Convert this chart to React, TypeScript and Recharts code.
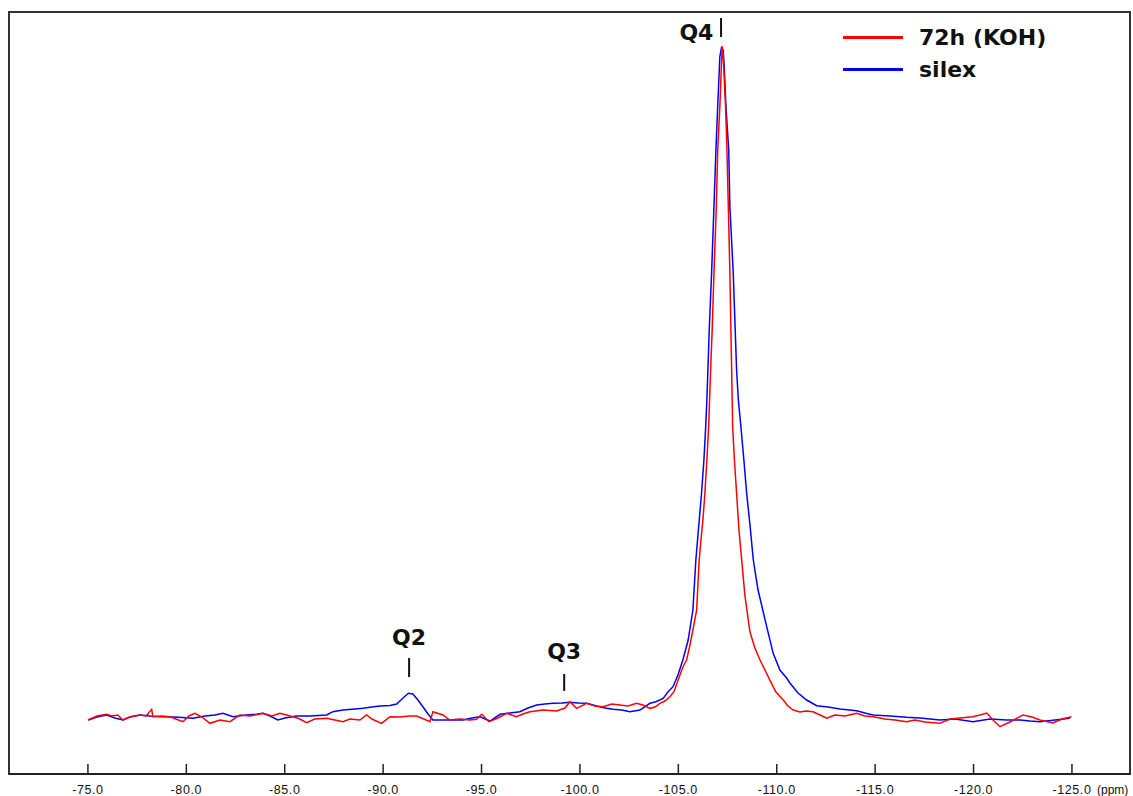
import React from 'react';
import {
  LineChart,
  Line,
  XAxis,
  YAxis,
  ReferenceArea,
  ReferenceLine,
  ReferenceDot,
  Legend,
} from 'recharts';

// 29Si NMR, chemical shift in ppm, intensity normalised to the Q4 maximum
const redPpm = [
  -75.0, -75.46, -75.95, -76.22, -76.52, -76.78, -77.13, -77.64, -77.95, -78.24, -78.3, -78.76,
  -79.17, -79.47, -79.83, -80.13, -80.44, -80.79, -81.2, -81.71, -82.22, -82.72, -83.23, -83.89,
  -84.35, -84.76, -85.42, -85.77, -86.11, -86.53, -87.13, -87.55, -87.96, -88.31, -88.82, -89.16,
  -89.43, -89.92, -90.35, -90.85, -91.36, -91.7, -92.07, -92.38, -92.53, -93.04, -93.39, -93.9,
  -94.41, -94.75, -95.01, -95.38, -95.83, -96.28, -96.78, -97.1, -97.46, -98.14, -98.82, -99.24,
  -99.49, -99.83, -100.34, -100.76, -101.18, -101.63, -102.03, -102.44, -102.88, -103.2, -103.56,
  -103.81, -104.07, -104.32, -104.57, -104.78, -104.99, -105.23, -105.42, -105.59, -105.74,
  -105.93, -106.06, -106.15, -106.25, -106.35, -106.45, -106.54, -106.66, -106.72, -106.81,
  -106.93, -107.0, -107.11, -107.16, -107.23, -107.29, -107.4, -107.47, -107.54, -107.62, -107.67,
  -107.71, -107.76, -107.85, -107.96, -108.08, -108.22, -108.38, -108.64, -108.89, -109.15,
  -109.45, -109.65, -109.96, -110.33, -110.57, -110.84, -111.18, -111.48, -111.84, -112.2,
  -112.54, -112.96, -113.47, -114.06, -114.48, -114.9, -115.5, -116.01, -116.6, -117.02, -117.53,
  -118.29, -118.8, -119.31, -119.97, -120.33, -120.67, -120.99, -121.34, -121.85, -122.51,
  -122.97, -123.37, -124.04, -124.49, -124.98,
];
const redInt = [
  -0.3, 0.3, 0.55, 0.3, 0.45, -0.3, 0.15, 0.45, 0.3, 1.29, 0.19, 0.3,
  0.19, -0.15, -0.55, 0.3, 0.7, 0.15, -0.79, -0.3, -0.55, 0.45, 0.3, 0.7,
  0.3, 0.7, 0.19, -0.15, -0.7, -0.15, -0.04, -0.3, -0.55, -0.15, -0.3, 0.45,
  -0.15, -0.79, 0.19, 0.15, 0.3, 0.3, -0.15, -0.55, 0.94, 0.45, -0.3, -0.15,
  -0.3, -0.19, 0.55, -0.55, 0.0, 0.7, 0.19, 0.6, 0.94, 1.19, 1.04, 1.49,
  2.43, 1.44, 2.19, 1.79, 1.68, 2.08, 1.93, 1.79, 2.19, 1.93, 1.44,
  1.64, 2.19, 2.53, 3.17, 3.91, 5.65, 7.59, 8.63, 10.86, 13.1,
  16.07, 23.51, 26.49, 29.46, 33.48, 38.39, 43.35, 53.27, 57.74, 66.22,
  76.09, 84.52, 90.97, 94.94, 100.0, 97.92, 90.97, 84.52, 76.09, 66.22, 57.74,
  51.79, 43.35, 38.39, 33.48, 27.98, 23.51, 18.3, 12.8, 10.42, 8.63,
  6.85, 5.65, 3.87, 2.68, 1.79, 1.19, 0.89, 1.04, 0.94, 0.45,
  -0.04, 0.45, 0.3, 0.7, 0.3, 0.19, -0.15, -0.3, -0.55, -0.3, -0.6,
  -0.79, -0.15, 0.0, 0.19, 0.45, 0.74, -0.3, -1.29, -0.6, 0.45,
  0.15, -0.3, -0.74, -0.15, 0.19,
];

const bluePpm = [
  -75.02, -75.46, -75.95, -76.37, -76.78, -77.13, -77.64, -78.15, -78.66, -79.42, -80.34, -80.95,
  -81.45, -81.86, -82.37, -83.06, -83.57, -83.89, -84.25, -84.65, -85.01, -85.6, -86.28, -87.13,
  -87.45, -87.96, -88.57, -88.97, -89.43, -89.84, -90.35, -90.69, -90.96, -91.28, -91.51, -91.77,
  -92.02, -92.28, -92.53, -93.14, -93.65, -94.06, -94.51, -94.92, -95.43, -95.94, -96.44, -96.95,
  -97.36, -97.8, -98.22, -98.63, -99.09, -99.49, -99.9, -100.34, -100.85, -101.27, -101.69,
  -102.13, -102.54, -103.05, -103.56, -103.86, -104.23, -104.47, -104.73, -104.98, -105.23,
  -105.5, -105.74, -105.89, -106.02, -106.18, -106.3, -106.39, -106.45, -106.52, -106.57,
  -106.69, -106.81, -106.91, -107.0, -107.11, -107.19, -107.28, -107.34, -107.42, -107.56,
  -107.62, -107.79, -107.89, -107.96, -108.05, -108.18, -108.33, -108.47, -108.64, -108.81,
  -109.05, -109.49, -109.82, -110.16, -110.5, -110.67, -111.08, -111.52, -112.03, -112.6,
  -113.21, -114.06, -114.48, -114.89, -115.75, -116.6, -117.28, -118.29, -119.06, -119.97,
  -120.83, -121.68, -122.36, -122.87, -123.37, -124.14, -124.9,
];
const blueInt = [
  -0.3, 0.15, 0.45, 0.0, -0.3, 0.15, 0.45, 0.3, 0.19, 0.15, -0.04, 0.3,
  0.45, 0.7, 0.19, 0.45, 0.55, 0.7, 0.3, -0.3, 0.0, 0.3, 0.3, 0.45,
  0.94, 1.19, 1.34, 1.44, 1.64, 1.79, 1.86, 2.08, 2.83, 3.68, 3.57, 2.68,
  1.68, 0.6, -0.3, -0.3, -0.3, -0.3, 0.0, 0.19, -0.45, 0.55, 0.74, 0.94,
  1.49, 1.93, 2.08, 2.19, 2.23, 2.34, 2.23, 2.19, 1.79, 1.49, 1.29,
  1.19, 0.94, 1.19, 2.19, 2.43, 2.93, 3.87, 4.66, 6.4, 8.63,
  11.61, 16.07, 23.51, 27.98, 33.48, 38.39, 43.35, 47.32, 53.27, 57.74,
  66.22, 76.09, 84.52, 90.97, 98.41, 99.7, 99.4, 96.43, 90.97, 84.52,
  76.09, 66.22, 57.74, 51.79, 47.32, 43.35, 38.39, 33.48, 28.72, 23.51,
  19.05, 13.59, 9.63, 7.14, 5.95, 5.21, 3.72, 2.68, 1.83, 1.64,
  1.34, 1.09, 0.74, 0.45, 0.3, 0.1, 0.0, -0.3, -0.15, -0.55,
  -0.15, -0.3, -0.3, -0.45, -0.55, -0.3, -0.04,
];

const xTicks = [-75, -80, -85, -90, -95, -100, -105, -110, -115, -120, -125];

const seriesNames = ['72h (KOH)', 'silex'];
const seriesColors = ['#ff0000', '#0000ff'];

// peak assignments: label, shift, label height, marker from/to
const peakLabels = [
  { name: 'Q2', ppm: -91.32, textAt: 12.05, tickFrom: 6.1, tickTo: 8.93 },
  { name: 'Q3', ppm: -99.2, textAt: 9.97, tickFrom: 4.02, tickTo: 6.55 },
  { name: 'Q4', ppm: -107.17, textAt: 102.08, tickFrom: 101.34, tickTo: 104.17, textPpm: -105.92 },
];

const X_DOMAIN: [number, number] = [-127.95, -70.99];
const Y_DOMAIN: [number, number] = [-8.33, 105.06];

const redData = redPpm.map((ppm, i) => ({ ppm, value: redInt[i] }));
const blueData = bluePpm.map((ppm, i) => ({ ppm, value: blueInt[i] }));

const FONT = '"DejaVu Sans", Arial, sans-serif';
const TICK_FONT = '"Liberation Sans", Arial, sans-serif';

function PpmTick(props: any) {
  const { x, y, payload } = props;
  return (
    <g>
      <line x1={x} y1={y - 10} x2={x} y2={y} stroke="#222" strokeWidth={1.5} />
      <text
        x={x}
        y={y + 20}
        textAnchor="middle"
        fontSize={12.5}
        letterSpacing={0.6}
        fontFamily={TICK_FONT}
        fill="#111"
      >
        {Number(payload.value).toFixed(1)}
      </text>
    </g>
  );
}

function SpectrumLegend() {
  return (
    <div style={{ fontFamily: FONT, fontWeight: 'bold', fontSize: 22, color: '#111' }}>
      {seriesNames.map((name, i) => (
        <div key={name} style={{ display: 'flex', alignItems: 'center', height: 32 }}>
          <div style={{ width: 60, height: 3, background: seriesColors[i], marginRight: 16 }} />
          <span>{name}</span>
        </div>
      ))}
    </div>
  );
}

export default function App() {
  return (
    <div style={{ position: 'absolute', left: 0, top: 0, width: 1133, height: 796, background: '#fff' }}>
      <LineChart width={1133} height={796} margin={{ top: 12, right: 3, left: 9, bottom: 0 }}>
        <XAxis
          dataKey="ppm"
          type="number"
          domain={X_DOMAIN}
          reversed
          allowDataOverflow
          ticks={xTicks}
          interval={0}
          height={22}
          tickLine={false}
          tickSize={0}
          tickMargin={0}
          tick={<PpmTick />}
          axisLine={{ stroke: '#222', strokeWidth: 2 }}
          label={{
            content: (p: any) => (
              <text
                x={p.viewBox.x + p.viewBox.width - 33}
                y={p.viewBox.y + 20}
                textAnchor="start"
                fontSize={12}
                fontFamily={TICK_FONT}
                fill="#111"
              >
                (ppm)
              </text>
            ),
          }}
        />
        <YAxis type="number" domain={Y_DOMAIN} allowDataOverflow hide width={0} />
        <ReferenceArea
          x1={X_DOMAIN[0]}
          x2={X_DOMAIN[1]}
          y1={Y_DOMAIN[0]}
          y2={Y_DOMAIN[1]}
          fill="none"
          stroke="#333"
          strokeWidth={2}
        />
        <Legend
          layout="vertical"
          verticalAlign="middle"
          align="center"
          content={<SpectrumLegend />}
          wrapperStyle={{ position: 'absolute', left: 843, top: 21, width: 260 }}
        />
        <Line
          data={blueData}
          dataKey="value"
          type="linear"
          stroke={seriesColors[1]}
          strokeWidth={1.5}
          dot={false}
          isAnimationActive={false}
        />
        <Line
          data={redData}
          dataKey="value"
          type="linear"
          stroke={seriesColors[0]}
          strokeWidth={1.5}
          dot={false}
          isAnimationActive={false}
        />
        {peakLabels.map((p) => (
          <ReferenceLine
            key={p.name + '-mark'}
            segment={[
              { x: p.ppm, y: p.tickFrom },
              { x: p.ppm, y: p.tickTo },
            ]}
            stroke="#111"
            strokeWidth={2}
          />
        ))}
        {peakLabels.map((p) => (
          <ReferenceDot
            key={p.name}
            x={p.textPpm ?? p.ppm}
            y={p.textAt}
            r={0}
            fill="none"
            stroke="none"
            label={{
              content: (lp: any) => (
                <text
                  x={lp.viewBox.x}
                  y={lp.viewBox.y}
                  textAnchor="middle"
                  dominantBaseline="central"
                  fontSize={22}
                  fontWeight="bold"
                  fontFamily={FONT}
                  fill="#111"
                >
                  {p.name}
                </text>
              ),
            }}
          />
        ))}
      </LineChart>
    </div>
  );
}
